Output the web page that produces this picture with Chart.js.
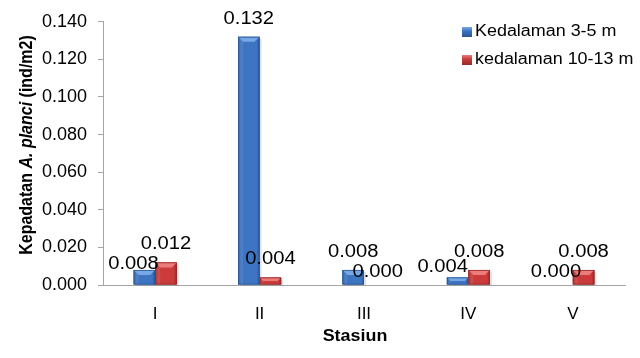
<!DOCTYPE html>
<html>
<head>
<meta charset="utf-8">
<script src="https://cdn.jsdelivr.net/npm/chart.js@4/dist/chart.umd.min.js"></script>
<style>
  html, body { margin: 0; padding: 0; background: #ffffff; }
  #wrap { width: 640px; height: 358px; position: relative; }
</style>
</head>
<body>
<div id="wrap"><canvas id="chart"></canvas></div>
<script>
// Crown-of-thorns starfish density per station, two depth ranges
const stations = ['I', 'II', 'III', 'IV', 'V'];
const density3to5 = [0.008, 0.132, 0.008, 0.004, 0.000];
const density10to13 = [0.012, 0.004, 0.000, 0.008, 0.008];
const seriesNames = ['Kedalaman 3-5 m', 'kedalaman 10-13 m'];
const yMax = 0.14;
const yStep = 0.02;

// Small hand nudges for value labels that would otherwise collide
const labelNudge = [
  [[-11, 12], [0, 0], [0, 0], [-15, 8], [-6, 5]],
  [[0, 0], [0, 0], [3, 5], [0, 0], [0, 0]]
];

const palette = [
  { face: '#3d75c2', light: '#78a7e6', dark: '#2a5795' },
  { face: '#cb3b3b', light: '#ec7c7a', dark: '#952a2a' }
];

const FONT = '"Liberation Sans", Arial, sans-serif';
const STRETCH = 1.12;

function shadeBar(ctx, x, top, base, width, pal) {
  const left = x - width / 2;
  const h = base - top;
  if (h <= 0.5) return;
  // soft drop shadow
  ctx.save();
  ctx.fillStyle = 'rgba(0,0,0,0.12)';
  ctx.fillRect(left + 2, top + 2, width, h - 1);
  ctx.restore();
  // body with darker side edges
  const g = ctx.createLinearGradient(left, 0, left + width, 0);
  g.addColorStop(0, pal.dark);
  g.addColorStop(0.14, pal.face);
  g.addColorStop(0.86, pal.face);
  g.addColorStop(1, pal.dark);
  ctx.fillStyle = g;
  ctx.fillRect(left, top, width, h);
  // lighter top bevel
  const b = Math.min(5, h / 2, width / 2);
  ctx.beginPath();
  ctx.moveTo(left, top);
  ctx.lineTo(left + width, top);
  ctx.lineTo(left + width - b, top + b);
  ctx.lineTo(left + b, top + b);
  ctx.closePath();
  ctx.fillStyle = pal.light;
  ctx.fill();
  // left bevel, slightly lighter than face
  ctx.beginPath();
  ctx.moveTo(left, top);
  ctx.lineTo(left + b, top + b);
  ctx.lineTo(left + b, base);
  ctx.lineTo(left, base);
  ctx.closePath();
  ctx.fillStyle = 'rgba(255,255,255,0.08)';
  ctx.fill();
  ctx.strokeStyle = pal.dark;
  ctx.lineWidth = 0.8;
  ctx.strokeRect(left + 0.4, top + 0.4, width - 0.8, h - 0.8);
}

function stretchedText(ctx, text, x, y, font, align) {
  ctx.save();
  ctx.font = font;
  ctx.translate(x, y);
  ctx.scale(STRETCH, 1);
  ctx.textAlign = align || 'center';
  ctx.textBaseline = 'middle';
  ctx.fillStyle = '#000000';
  ctx.fillText(text, 0, 0);
  ctx.restore();
}

const barDecor = {
  id: 'barDecor',
  afterDatasetsDraw(chart) {
    const ctx = chart.ctx;
    chart.data.datasets.forEach((ds, di) => {
      const meta = chart.getDatasetMeta(di);
      meta.data.forEach((el) => {
        const p = el.getProps(['x', 'y', 'base', 'width'], true);
        shadeBar(ctx, p.x, p.y, p.base, p.width, palette[di]);
      });
    });
    // value labels above the bars
    chart.data.datasets.forEach((ds, di) => {
      const meta = chart.getDatasetMeta(di);
      meta.data.forEach((el, i) => {
        const p = el.getProps(['x', 'y'], true);
        const n = labelNudge[di][i];
        stretchedText(ctx, ds.data[i].toFixed(3), p.x + n[0], p.y - 18 + n[1], '18px ' + FONT);
      });
    });
  }
};

const annotations = {
  id: 'annotations',
  afterDraw(chart) {
    const ctx = chart.ctx;
    // legend
    const lx = 462, ly = [32, 60];
    seriesNames.forEach((name, i) => {
      const pal = palette[i];
      const g = ctx.createLinearGradient(0, ly[i] - 5, 0, ly[i] + 5);
      g.addColorStop(0, pal.light);
      g.addColorStop(0.4, pal.face);
      g.addColorStop(1, pal.dark);
      ctx.fillStyle = g;
      ctx.fillRect(lx, ly[i] - 5, 10, 10);
      stretchedText(ctx, name, lx + 13, ly[i], '16px ' + FONT, 'left');
    });
    // x-axis title
    stretchedText(ctx, 'Stasiun', 355, 337, 'bold 16px ' + FONT);
    // y-axis title with italic species name
    const parts = [
      { t: 'Kepadatan ', f: 'bold 16px ' + FONT },
      { t: 'A. planci', f: 'italic bold 16px ' + FONT },
      { t: ' (ind/m2)', f: 'bold 16px ' + FONT }
    ];
    ctx.save();
    let total = 0;
    parts.forEach(p => { ctx.font = p.f; p.w = ctx.measureText(p.t).width; total += p.w; });
    ctx.translate(27, 145);
    ctx.rotate(-Math.PI / 2);
    ctx.scale(1, STRETCH);
    ctx.textBaseline = 'middle';
    ctx.textAlign = 'left';
    ctx.fillStyle = '#000000';
    let cx = -total / 2;
    parts.forEach(p => { ctx.font = p.f; ctx.fillText(p.t, cx, 0); cx += p.w; });
    ctx.restore();
  }
};

new Chart(document.getElementById('chart'), {
  type: 'bar',
  data: {
    labels: stations,
    datasets: [
      { label: seriesNames[0], data: density3to5, backgroundColor: palette[0].face },
      { label: seriesNames[1], data: density10to13, backgroundColor: palette[1].face }
    ]
  },
  options: {
    responsive: true,
    maintainAspectRatio: false,
    animation: false,
    devicePixelRatio: 1,
    layout: { padding: { top: 20, right: 15, left: 0, bottom: 0 } },
    datasets: { bar: { categoryPercentage: 0.413, barPercentage: 1.0 } },
    plugins: { legend: { display: false }, tooltip: { enabled: false } },
    scales: {
      x: {
        grid: { display: false, drawTicks: false },
        border: { color: '#a6a6a6', width: 1 },
        ticks: { color: '#000000', font: { family: FONT, size: 17 }, padding: 19 },
        afterFit(scale) { scale.height = 73; }
      },
      y: {
        min: 0,
        max: yMax,
        grid: { drawOnChartArea: false, drawTicks: true, tickLength: 5, color: '#a6a6a6' },
        border: { color: '#a6a6a6', width: 1 },
        ticks: {
          stepSize: yStep,
          color: '#000000',
          font: { family: FONT, size: 18 },
          padding: 11,
          callback: (v) => v.toFixed(3)
        },
        afterFit(scale) { scale.width = 103; }
      }
    }
  },
  plugins: [barDecor, annotations]
});
</script>
</body>
</html>
